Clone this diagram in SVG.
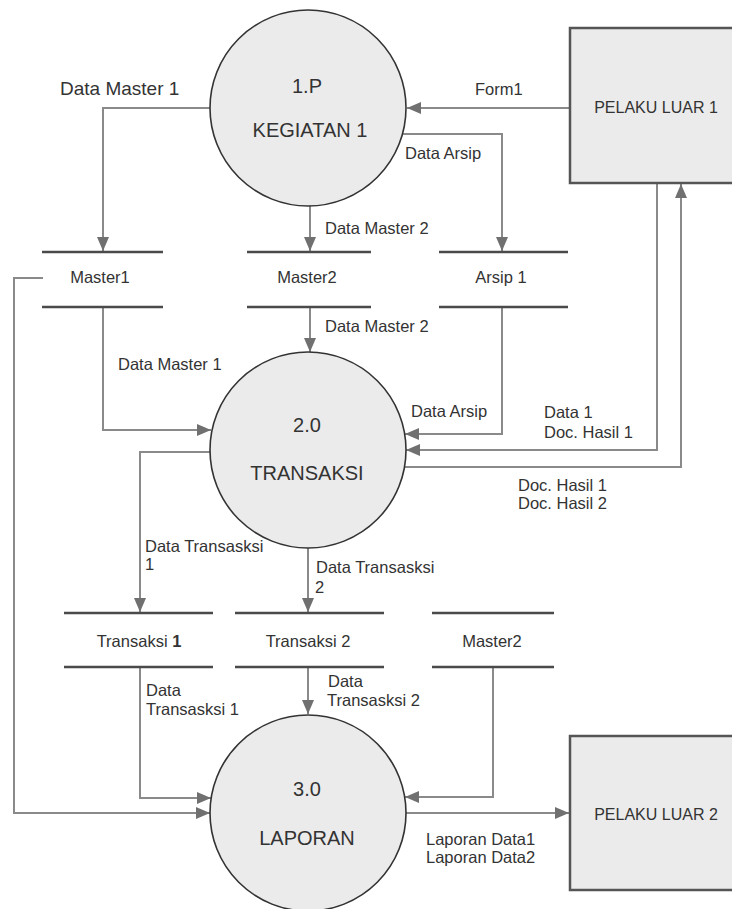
<svg xmlns="http://www.w3.org/2000/svg" width="732" height="909" viewBox="0 0 732 909">
<style>
text{font-family:"Liberation Sans",Arial,sans-serif;fill:#333;}
.lbl{font-size:16.5px;}
.big{font-size:20px;text-anchor:middle;}
.ent{font-size:16px;text-anchor:middle;}
.st{font-size:16.5px;text-anchor:middle;}
.proc{fill:#ebebeb;stroke:#333;stroke-width:1.6;}
.box{fill:#ebebeb;stroke:#555;stroke-width:2.5;}
.store{stroke:#4a4a4a;stroke-width:2.5;fill:none;}
.flow{stroke:#8a8a8a;stroke-width:2;fill:none;marker-end:url(#ah);}
.plain{stroke:#8a8a8a;stroke-width:2;fill:none;}
</style>
<defs>
<marker id="ah" markerUnits="userSpaceOnUse" viewBox="0 0 14 12" markerWidth="14" markerHeight="12" refX="14" refY="6" orient="auto">
<path d="M0,0 L14,6 L0,12 z" fill="#707070"/>
</marker>
</defs>
<rect width="732" height="909" fill="#fff"/>

<g id="connectors">
<path class="flow" d="M210 108 H103 V251"/>
<path class="flow" d="M310 206 V251"/>
<path class="flow" d="M402 134 H502 V251"/>
<path class="flow" d="M570 108 H407"/>
<path class="flow" d="M103 307 V430 H211"/>
<path class="flow" d="M310 307 V352"/>
<path class="flow" d="M502 307 V434 H405"/>
<path class="flow" d="M657 183 V450 H406"/>
<path class="flow" d="M405 467 H681 V184"/>
<path class="flow" d="M212 452 H140 V612"/>
<path class="flow" d="M308 548 V612"/>
<path class="flow" d="M140 667 V798 H211"/>
<path class="flow" d="M308 667 V714"/>
<path class="flow" d="M493 667 V797 H405"/>
<path class="flow" d="M43 278 H14 V813 H210"/>
<path class="flow" d="M406 813 H569"/>
</g>

<g id="proc1">
<circle class="proc" cx="308" cy="108" r="98"/>
<text class="big" x="307" y="93">1.P</text>
<text class="big" x="310" y="137">KEGIATAN 1</text>
</g>
<g id="proc2">
<circle class="proc" cx="308" cy="450" r="98"/>
<text class="big" x="307" y="432">2.0</text>
<text class="big" x="307" y="480">TRANSAKSI</text>
</g>
<g id="proc3">
<circle class="proc" cx="308" cy="813" r="98"/>
<text class="big" x="307" y="796">3.0</text>
<text class="big" x="307" y="845">LAPORAN</text>
</g>

<g id="ext1">
<rect class="box" x="570" y="28" width="175" height="155"/>
<text class="ent" x="656" y="113">PELAKU LUAR 1</text>
</g>
<g id="ext2">
<rect class="box" x="570" y="736" width="175" height="154"/>
<text class="ent" x="656" y="820">PELAKU LUAR 2</text>
</g>

<g id="store-master1">
<path class="store" d="M42 252 H163 M42 307 H163"/>
<text class="st" x="100" y="283">Master1</text>
</g>
<g id="store-master2">
<path class="store" d="M247 252 H371 M247 307 H371"/>
<text class="st" x="307" y="283">Master2</text>
</g>
<g id="store-arsip1">
<path class="store" d="M439 252 H568 M439 307 H568"/>
<text class="st" x="501" y="283">Arsip 1</text>
</g>
<g id="store-transaksi1">
<path class="store" d="M64 613 H213 M64 667 H213"/>
<text class="st" x="139" y="647">Transaksi <tspan font-weight="bold">1</tspan></text>
</g>
<g id="store-transaksi2">
<path class="store" d="M235 613 H384 M235 667 H384"/>
<text class="st" x="308" y="647">Transaksi 2</text>
</g>
<g id="store-master2b">
<path class="store" d="M432 613 H554 M432 667 H554"/>
<text class="st" x="492" y="647">Master2</text>
</g>

<g id="labels">
<text class="lbl" x="60" y="95" style="font-size:19px">Data Master 1</text>
<text class="lbl" x="475" y="95">Form1</text>
<text class="lbl" x="405" y="159">Data Arsip</text>
<text class="lbl" x="325" y="234">Data Master 2</text>
<text class="lbl" x="325" y="332">Data Master 2</text>
<text class="lbl" x="118" y="370">Data Master 1</text>
<text class="lbl" x="411" y="417">Data Arsip</text>
<text class="lbl" x="544" y="418">Data 1</text>
<text class="lbl" x="544" y="438">Doc. Hasil 1</text>
<text class="lbl" x="518" y="491">Doc. Hasil 1</text>
<text class="lbl" x="518" y="509">Doc. Hasil 2</text>
<text class="lbl" x="145" y="552">Data Transasksi</text>
<text class="lbl" x="145" y="570">1</text>
<text class="lbl" x="316" y="573">Data Transasksi</text>
<text class="lbl" x="315" y="593">2</text>
<text class="lbl" x="146" y="696">Data</text>
<text class="lbl" x="146" y="715">Transasksi 1</text>
<text class="lbl" x="328" y="687">Data</text>
<text class="lbl" x="327" y="706">Transasksi 2</text>
<text class="lbl" x="426" y="845">Laporan Data1</text>
<text class="lbl" x="426" y="863">Laporan Data2</text>
</g>
</svg>
